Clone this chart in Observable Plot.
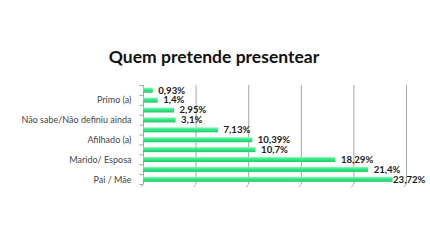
<!DOCTYPE html>
<html>
<head>
<meta charset="utf-8">
<script src="https://cdn.jsdelivr.net/npm/d3@7"></script>
<script src="https://cdn.jsdelivr.net/npm/@observablehq/plot@0.6"></script>
<style>
  html, body { margin: 0; padding: 0; background: #fff; }
  #chart { width: 430px; height: 243px; }
</style>
</head>
<body>
<div id="chart"></div>
<script>
const title = "Quem pretende presentear";
const categories = ["", "Primo (a)", "", "Não sabe/Não definiu ainda", "", "Afilhado (a)", "", "Marido/ Esposa", "", "Pai / Mãe"];
const values = [0.93, 1.4, 2.95, 3.1, 7.13, 10.39, 10.7, 18.29, 21.4, 23.72];
const valueLabels = ["0,93%", "1,4%", "2,95%", "3,1%", "7,13%", "10,39%", "10,7%", "18,29%", "21,4%", "23,72%"];
const xTicks = [0, 5, 10, 15, 20, 25];

const rows = values.map((v, i) => ({i, v, cat: categories[i], lab: valueLabels[i]}));
const bounds = d3.range(0, values.length + 1);
const last = rows.length - 1;

const chart = Plot.plot({
  width: 430,
  height: 243,
  marginLeft: 143,
  marginRight: 24,
  marginTop: 85,
  marginBottom: 59,
  style: {fontFamily: "Lato, sans-serif", background: "#fff"},
  x: {type: "linear", domain: [0, 25], axis: null},
  y: {type: "linear", domain: [0, values.length], reverse: true, axis: null},
  marks: [
    Plot.ruleX(xTicks.slice(1), {y1: 0, y2: values.length, stroke: "#a6a6a6", strokeWidth: 1}),
    Plot.link(xTicks, {x1: d => d - 0.25, y1: values.length + 0.25, x2: d => d, y2: values.length, stroke: "#a6a6a6", strokeWidth: 1}),
    Plot.ruleX([0], {y1: 0, y2: values.length, stroke: "#a6a6a6", strokeWidth: 1}),
    Plot.ruleY(bounds, {y: d => d, x1: -0.35, x2: 0, stroke: "#a6a6a6", strokeWidth: 1}),
    Plot.rectX(rows, {x1: 0, x2: "v", y1: d => d.i + 0.27, y2: d => d.i + 0.78, fill: "url(#barGrad)"}),
    Plot.text(rows, {x: 0, y: d => d.i + 0.52, text: "cat", textAnchor: "end", dx: -12, fontSize: 9, fill: "#454545"}),
    Plot.text(rows.filter(d => d.i !== last), {x: "v", y: d => d.i + 0.5, text: "lab", textAnchor: "start", dx: 5, fontSize: 9.6, fontWeight: "bold", fill: "#1a1a1a"}),
    Plot.text(rows.filter(d => d.i === last), {x: "v", y: d => d.i + 0.5, text: "lab", textAnchor: "start", dx: 0, fontSize: 9.6, fontWeight: "bold", fill: "#1a1a1a"}),
    Plot.text([title], {frameAnchor: "top", dy: -35, dx: -61, fontSize: 17.5, fontWeight: "bold", fill: "#111", text: d => d})
  ]
});

const defs = d3.select(chart).insert("defs", ":first-child");
const g = defs.append("linearGradient").attr("id", "barGrad").attr("x1", 0).attr("y1", 0).attr("x2", 0).attr("y2", 1);
g.append("stop").attr("offset", "0%").attr("stop-color", "#9af7c2");
g.append("stop").attr("offset", "35%").attr("stop-color", "#3ded8c");
g.append("stop").attr("offset", "100%").attr("stop-color", "#1fc86c");

document.getElementById("chart").appendChild(chart);
</script>
</body>
</html>
